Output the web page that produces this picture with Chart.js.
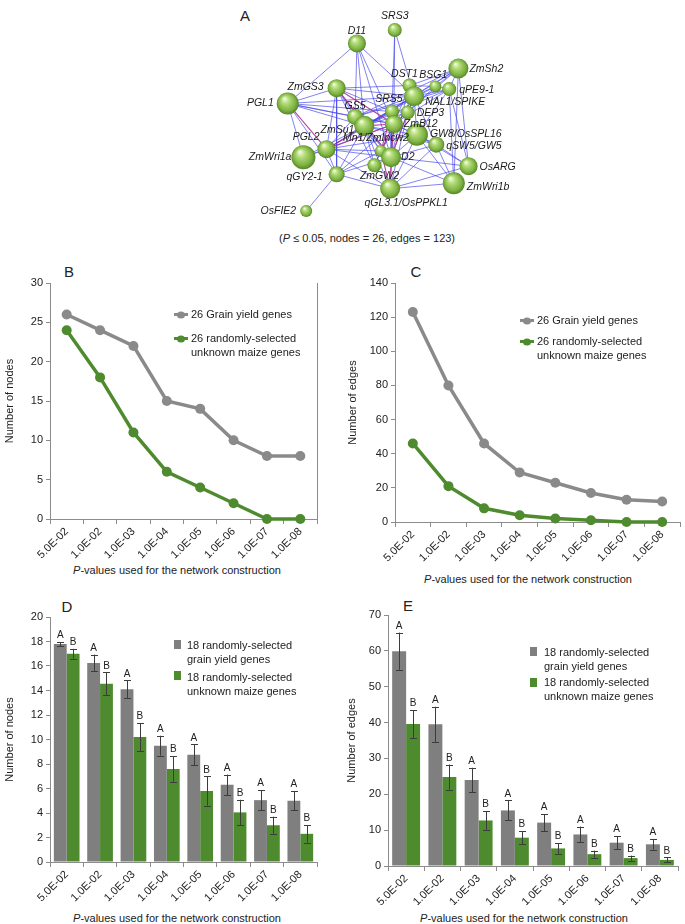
<!DOCTYPE html>
<html><head><meta charset="utf-8">
<script src="https://cdn.jsdelivr.net/npm/chart.js@4.4.1/dist/chart.umd.min.js"></script>
<style>
html,body{margin:0;padding:0;background:#fff;width:685px;height:924px;overflow:hidden;font-family:"Liberation Sans",Arial,sans-serif;color:#222}
canvas{position:absolute}
.c{position:absolute;transform:translate(-50%,-50%);white-space:nowrap}
.letter{font-size:15px}
.xt{font-size:11px}
.leg{position:absolute;font-size:11px;line-height:14px;white-space:nowrap}
.lm{position:absolute;height:3px}
.lm i{position:absolute;left:50%;top:50%;width:8px;height:7px;border-radius:50%;transform:translate(-50%,-50%)}
.sq{position:absolute;width:7px;height:9px}
</style></head>
<body>
<div class="c letter" style="left:245px;top:15px">A</div>
<div class="c letter" style="left:69px;top:271px">B</div>
<div class="c letter" style="left:416px;top:271px">C</div>
<div class="c letter" style="left:67px;top:606px">D</div>
<div class="c letter" style="left:408px;top:605px">E</div>
<div class="c xt" style="left:367px;top:238px">(<i>P</i> ≤ 0.05, nodes = 26, edges = 123)</div>
<div class="c xt" style="left:177px;top:570px"><i>P</i>-values used for the network construction</div>
<div class="c xt" style="left:528px;top:579px"><i>P</i>-values used for the network construction</div>
<div class="c xt" style="left:177px;top:918px"><i>P</i>-values used for the network construction</div>
<div class="c xt" style="left:524px;top:918px"><i>P</i>-values used for the network construction</div>

<canvas id="cA" width="310" height="232" style="left:225px;top:0px"></canvas>
<canvas id="cB" width="345" height="300" style="left:0px;top:270px"></canvas>
<canvas id="cC" width="340" height="300" style="left:345px;top:270px"></canvas>
<canvas id="cD" width="345" height="305" style="left:0px;top:600px"></canvas>
<canvas id="cE" width="340" height="305" style="left:345px;top:600px"></canvas>

<!-- legends -->
<div class="lm" style="left:174px;top:313px;width:14px;background:#8a8a8a"><i style="background:#8a8a8a"></i></div>
<div class="leg" style="left:191px;top:307px">26 Grain yield genes</div>
<div class="lm" style="left:174px;top:337px;width:14px;background:#4e8a2e"><i style="background:#4e8a2e"></i></div>
<div class="leg" style="left:191px;top:331px">26 randomly-selected<br>unknown maize genes</div>

<div class="lm" style="left:520px;top:319px;width:14px;background:#8a8a8a"><i style="background:#8a8a8a"></i></div>
<div class="leg" style="left:537px;top:313px">26 Grain yield genes</div>
<div class="lm" style="left:520px;top:340px;width:14px;background:#4e8a2e"><i style="background:#4e8a2e"></i></div>
<div class="leg" style="left:537px;top:334px">26 randomly-selected<br>unknown maize genes</div>

<div class="sq" style="left:174px;top:640px;background:#7f7f7f"></div>
<div class="leg" style="left:187px;top:638px">18 randomly-selected<br>grain yield genes</div>
<div class="sq" style="left:174px;top:671px;background:#4e8a2e"></div>
<div class="leg" style="left:187px;top:670px">18 randomly-selected<br>unknown maize genes</div>

<div class="sq" style="left:530px;top:647px;background:#7f7f7f"></div>
<div class="leg" style="left:544px;top:645px">18 randomly-selected<br>grain yield genes</div>
<div class="sq" style="left:530px;top:678px;background:#4e8a2e"></div>
<div class="leg" style="left:544px;top:675px">18 randomly-selected<br>unknown maize genes</div>

<script>
// ---------------- DATA ----------------
const pValueLabels = ['5.0E-02','1.0E-02','1.0E-03','1.0E-04','1.0E-05','1.0E-06','1.0E-07','1.0E-08'];

// Panel B: number of nodes (26 genes)
const nodesGrain26  = [26, 24, 22, 15, 14, 10, 8, 8];
const nodesRandom26 = [24, 18, 11, 6, 4, 2, 0, 0];

// Panel C: number of edges (26 genes)
const edgesGrain26  = [123, 80, 46, 29, 23, 17, 13, 12];
const edgesRandom26 = [46, 21, 8, 4, 2, 1, 0, 0];

// Panel D: number of nodes (18 genes), mean and error
const nodesGrain18     = [17.8, 16.25, 14.1, 9.5, 8.75, 6.3, 5.05, 5.0];
const nodesGrain18Err  = [0.16, 0.68, 0.73, 0.81, 0.85, 0.84, 0.81, 0.79];
const nodesRandom18    = [17.0, 14.55, 10.2, 7.6, 5.8, 4.05, 3.0, 2.3];
const nodesRandom18Err = [0.4, 0.92, 1.15, 1.05, 1.2, 1.03, 0.7, 0.72];

// Panel E: number of edges (18 genes), mean and error
const edgesGrain18     = [59.9, 39.5, 24.0, 15.5, 12.1, 8.8, 6.5, 6.05];
const edgesGrain18Err  = [5.2, 4.9, 3.4, 2.8, 2.4, 2.2, 1.8, 1.5];
const edgesRandom18    = [39.6, 24.8, 12.7, 7.9, 4.9, 3.3, 2.2, 1.7];
const edgesRandom18Err = [3.9, 3.5, 2.6, 1.8, 1.5, 1.0, 0.7, 0.7];

const sigGrain  = ['A','A','A','A','A','A','A','A'];
const sigRandom = ['B','B','B','B','B','B','B','B'];

// Panel A: network (layout coordinates and node size)
const geneNames = ['SRS3','D11','ZmSh2','DST1','BSG1','qPE9-1','ZmGS3','NAL1/SPIKE','PGL1','SRS5','DEP3','GS5','ZmSu1','ZmB12','GW8/OsSPL16','Mn1/ZmIncw2','qSW5/GW5','PGL2','D2','ZmWri1a','ZmGW2','OsARG','qGY2-1','ZmWri1b','qGL3.1/OsPPKL1','OsFIE2'];
const geneX    = [396, 355, 465, 412, 440, 455, 333, 417, 280, 393, 410, 353, 363, 395, 420, 381, 441, 322, 392, 297, 374, 476, 333, 460, 391, 300];
const geneY    = [20, 35, 63, 82, 83, 86, 85, 94, 102, 111, 112, 117, 127, 125, 137, 155, 148, 153, 162, 162, 171, 172, 181, 191, 197, 222];
const geneSize = [7, 9, 10, 7, 6, 7, 9, 10, 11, 7, 7, 8, 10, 9, 11, 6, 8, 9, 10, 12, 7, 9, 8, 11, 10, 6];
// edges: [from, to, type] type 1 = strong (purple)
const geneEdges = [
 [0,7],[0,13],[0,9],
 [1,8],[1,11],[1,12],[1,7],[1,13],[1,18],
 [2,3],[2,7],[2,4],[2,5],[2,13],[2,12],[2,11],[2,21],[2,23],
 [3,6],[3,7],[3,4],[3,13],[3,18],
 [4,7],[4,5],[4,13],[4,12],
 [5,7],[5,12],[5,13],[5,14],[5,21],[5,23],[5,11],
 [6,8],[6,11],[6,12],[6,13,1],[6,7],[6,17],[6,22],[6,18,1],[6,20],[6,9],
 [8,11],[8,12],[8,13],[8,17,1],[8,19],[8,22],[8,9],[8,7],
 [9,10],[9,12],[9,13],[9,18],[9,17],[9,15,1],
 [10,13],[10,12],[10,18,1],[10,7],[10,24],
 [11,12],[11,13],[11,7],[11,17],[11,18],[11,15],
 [12,13,1],[12,7],[12,14],[12,15],[12,17,1],[12,18],[12,19],[12,22],[12,24],[12,20],[12,16],
 [13,7],[13,14],[13,15,1],[13,17,1],[13,18,1],[13,20],[13,22],[13,24],[13,16],[13,19],
 [7,14],[7,17],[7,18],[7,16],[7,15],
 [14,18],[14,16],[14,21],[14,23],[14,24],[14,17],
 [15,18,1],[15,20],[15,24,1],[15,17],[15,22],
 [16,18],[16,21],[16,23],[16,24],
 [17,19],[17,22],[17,18],[17,24],
 [18,24,1],[18,21],[18,23],[18,22],[18,20],
 [22,25],[22,24],[24,23],[24,21]
];

// ---------------- STYLE / LAYOUT ----------------
const FONT = '"Liberation Sans", Arial, sans-serif';
const GREY_LINE = '#8a8a8a', GREEN = '#4e8a2e', GREY_BAR = '#7f7f7f', AXIS = '#8c8c8c';
// label placement relative to node: [dx, dy, align]
const geneLabelPlace = [
 [0,-14,'center'],[0,-12,'center'],[11,1,'left'],[-5,-11,'center'],[-2,-11,'center'],[10,1,'left'],
 [-13,-1,'right'],[11,6,'left'],[-14,0,'right'],[-3,-12,'center'],[9,1,'left'],[0,-11,'center'],
 [-10,4,'right'],[10,0,'left'],[13,-1,'left'],[-5,-13,'center'],[10,1,'left'],[-7,-12,'right'],
 [10,0,'left'],[-12,0,'right'],[5,11,'center'],[11,1,'left'],[-14,3,'right'],[13,4,'left'],
 [16,14,'center'],[-10,0,'right']
];

Chart.defaults.font.family = FONT;
Chart.defaults.font.size = 11;
Chart.defaults.color = '#222';
Chart.defaults.animation = false;

// ---------------- PANEL A ----------------
function edgeData(type) {
  const out = [];
  geneEdges.forEach(e => {
    if ((e[2] || 0) !== type) return;
    out.push({x: geneX[e[0]], y: geneY[e[0]]});
    out.push({x: geneX[e[1]], y: geneY[e[1]]});
    out.push({x: null, y: null});
  });
  return out;
}
const netLabelPlugin = {
  id: 'netLabels',
  afterDatasetsDraw(chart) {
    const ctx = chart.ctx, xs = chart.scales.x, ys = chart.scales.y;
    ctx.save();
    ctx.font = 'italic 10.5px ' + FONT;
    ctx.fillStyle = '#1a1a1a';
    ctx.textBaseline = 'middle';
    geneNames.forEach((n, i) => {
      const p = geneLabelPlace[i];
      ctx.textAlign = p[2];
      ctx.fillText(n, xs.getPixelForValue(geneX[i]) + p[0], ys.getPixelForValue(geneY[i]) + p[1]);
    });
    ctx.restore();
  }
};
new Chart(document.getElementById('cA'), {
  type: 'scatter',
  data: {
    datasets: [
      {
        type: 'bubble', order: 0,
        data: geneNames.map((n, i) => ({x: geneX[i], y: geneY[i], r: geneSize[i]})),
        borderWidth: 0,
        backgroundColor: (c) => {
          if (c.type !== 'data' || !c.chart.chartArea) return '#8cc152';
          const ch = c.chart, xs = ch.scales.x, ys = ch.scales.y;
          const px = xs.getPixelForValue(c.raw.x), py = ys.getPixelForValue(c.raw.y), r = c.raw.r;
          const g = ch.ctx.createRadialGradient(px - r * 0.3, py - r * 0.45, r * 0.05, px, py, r * 1.05);
          g.addColorStop(0, '#f0fadc');
          g.addColorStop(0.3, '#b2dc78');
          g.addColorStop(0.75, '#7cb040');
          g.addColorStop(1, '#4f7f22');
          return g;
        }
      },
      { order: 2, data: edgeData(0), showLine: true, spanGaps: false, pointRadius: 0, borderWidth: 0.8, borderColor: 'rgba(70,70,235,0.85)' },
      { order: 1, data: edgeData(1), showLine: true, spanGaps: false, pointRadius: 0, borderWidth: 1.1, borderColor: 'rgba(170,40,140,0.85)' }
    ]
  },
  options: {
    responsive: false, events: [],
    layout: {padding: 0},
    plugins: {legend: {display: false}, tooltip: {enabled: false}},
    scales: {
      x: {type: 'linear', min: 225, max: 535, display: false},
      y: {type: 'linear', min: 0, max: 232, reverse: true, display: false}
    }
  },
  plugins: [netLabelPlugin]
});

// ---------------- helpers ----------------
const rightBorderPlugin = {
  id: 'rightBorder',
  afterDraw(chart, args, opts) {
    if (!opts.show) return;
    const a = chart.chartArea, ctx = chart.ctx;
    ctx.save(); ctx.strokeStyle = AXIS; ctx.lineWidth = 1;
    ctx.beginPath(); ctx.moveTo(Math.round(a.right) + 0.5, a.top); ctx.lineTo(Math.round(a.right) + 0.5, a.bottom); ctx.stroke();
    ctx.restore();
  }
};
function axes(ymax, step, ytitle, yWidth, xHeight, titlePad) {
  return {
    x: {
      type: 'category', offset: true,
      grid: {offset: true, drawOnChartArea: false, drawTicks: true, tickLength: 5, color: AXIS},
      border: {display: true, color: AXIS, width: 1},
      ticks: {autoSkip: false, minRotation: 45, maxRotation: 45, padding: 1, color: '#222', font: {size: 11}},
      afterFit: (s) => { s.height = xHeight; }
    },
    y: {
      min: 0, max: ymax,
      grid: {drawOnChartArea: false, drawTicks: true, tickLength: 4, color: AXIS},
      border: {display: true, color: AXIS, width: 1},
      ticks: {stepSize: step, padding: 3, color: '#222', font: {size: 11}},
      title: {display: true, text: ytitle, font: {size: 11}, color: '#222', padding: {top: titlePad, bottom: 0}},
      afterFit: (s) => { s.width = yWidth; }
    }
  };
}
function lineChart(id, grey, green, ymax, step, ytitle, pad, yWidth, xHeight, titlePad, border) {
  new Chart(document.getElementById(id), {
    type: 'line',
    data: {
      labels: pValueLabels,
      datasets: [
        {data: grey, borderColor: GREY_LINE, backgroundColor: GREY_LINE, borderWidth: 3.5, pointRadius: 5, pointBorderWidth: 0, tension: 0},
        {data: green, borderColor: GREEN, backgroundColor: GREEN, borderWidth: 3.5, pointRadius: 5, pointBorderWidth: 0, tension: 0}
      ]
    },
    options: {
      responsive: false, events: [], clip: false,
      layout: {padding: pad},
      plugins: {legend: {display: false}, tooltip: {enabled: false}, rightBorder: {show: border}},
      scales: axes(ymax, step, ytitle, yWidth, xHeight, titlePad)
    },
    plugins: [rightBorderPlugin]
  });
}
const errorBarPlugin = {
  id: 'errorBars',
  afterDatasetsDraw(chart) {
    const ctx = chart.ctx, ys = chart.scales.y;
    ctx.save();
    chart.data.datasets.forEach((ds, di) => {
      const meta = chart.getDatasetMeta(di);
      meta.data.forEach((bar, i) => {
        const v = ds.data[i], e = ds.errors[i];
        const yt = ys.getPixelForValue(v + e), yb = ys.getPixelForValue(v - e);
        const x = Math.round(bar.x) + 0.5;
        ctx.strokeStyle = '#3c3c3c'; ctx.lineWidth = 1;
        ctx.beginPath();
        ctx.moveTo(x, yt); ctx.lineTo(x, yb);
        ctx.moveTo(x - 3.5, Math.round(yt) + 0.5); ctx.lineTo(x + 3.5, Math.round(yt) + 0.5);
        ctx.moveTo(x - 3.5, Math.round(yb) + 0.5); ctx.lineTo(x + 3.5, Math.round(yb) + 0.5);
        ctx.stroke();
        ctx.fillStyle = '#222'; ctx.font = '10px ' + FONT;
        ctx.textAlign = 'center'; ctx.textBaseline = 'bottom';
        ctx.fillText(ds.sig[i], bar.x, yt - 1.5);
      });
    });
    ctx.restore();
  }
};
function barChart(id, grey, greyErr, green, greenErr, ymax, step, ytitle, pad, yWidth, xHeight, titlePad) {
  new Chart(document.getElementById(id), {
    type: 'bar',
    data: {
      labels: pValueLabels,
      datasets: [
        {data: grey, errors: greyErr, sig: sigGrain, backgroundColor: GREY_BAR, categoryPercentage: 0.77, barPercentage: 1.0},
        {data: green, errors: greenErr, sig: sigRandom, backgroundColor: GREEN, categoryPercentage: 0.77, barPercentage: 1.0}
      ]
    },
    options: {
      responsive: false, events: [],
      layout: {padding: pad},
      plugins: {legend: {display: false}, tooltip: {enabled: false}},
      scales: axes(ymax, step, ytitle, yWidth, xHeight, titlePad)
    },
    plugins: [errorBarPlugin]
  });
}

// ---------------- PANELS B-E ----------------
lineChart('cB', nodesGrain26, nodesRandom26, 30, 5, 'Number of nodes', {top: 13, right: 28, left: 0, bottom: 0}, 50, 51, 3, true);
lineChart('cC', edgesGrain26, edgesRandom26, 140, 20, 'Number of edges', {top: 13, right: 2, left: 0, bottom: 0}, 50, 48, 1, false);
barChart('cD', nodesGrain18, nodesGrain18Err, nodesRandom18, nodesRandom18Err, 20, 2, 'Number of nodes', {top: 17, right: 28, left: 0, bottom: 0}, 50, 43, 3);
barChart('cE', edgesGrain18, edgesGrain18Err, edgesRandom18, edgesRandom18Err, 70, 10, 'Number of edges', {top: 15, right: 7, left: 0, bottom: 0}, 43, 39, 0);
</script>
</body></html>
